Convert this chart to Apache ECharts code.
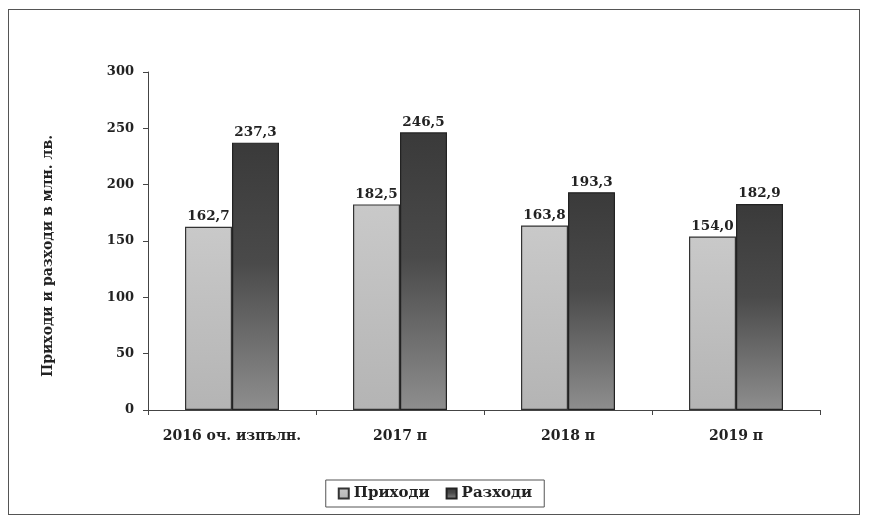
<!DOCTYPE html>
<html>
<head>
<meta charset="utf-8">
<script src="https://cdn.jsdelivr.net/npm/echarts@6/dist/echarts.min.js"></script>
<style>
  html, body { margin: 0; padding: 0; background: #fff; }
  #frame { position: absolute; left: 8px; top: 9px; width: 852px; height: 506px; border: 1px solid #555; box-sizing: border-box; }
  #chart { width: 870px; height: 518px; }
</style>
</head>
<body>
<div id="frame"></div>
<div id="chart"></div>
<script>
const categories = ['2016 оч. изпълн.', '2017 п', '2018 п', '2019 п']
const income = [162.7, 182.5, 163.8, 154.0]
const expenses = [237.3, 246.5, 193.3, 182.9]
const yTicks = [0, 50, 100, 150, 200, 250, 300]
const yTitle = 'Приходи и разходи в млн. лв.'

const font = '"DejaVu Serif", "Liberation Serif", serif'
const fmt = p => p.value.toFixed(1).replace('.', ',')

const chart = echarts.init(document.getElementById('chart'))
chart.setOption({
  animation: false,
  textStyle: { fontFamily: font },
  grid: { left: 148, right: 50, top: 72, bottom: 108 },
  graphic: [
    {
      type: 'text',
      x: 48,
      y: 256,
      rotation: Math.PI / 2,
      style: {
        text: yTitle,
        fontFamily: font,
        fontWeight: 'bold',
        fontSize: 14,
        fill: '#222',
        align: 'center',
        verticalAlign: 'middle'
      }
    }
  ],
  legend: {
    bottom: 11,
    left: 'center',
    itemWidth: 10,
    itemHeight: 10,
    itemGap: 16,
    padding: [6, 12],
    borderColor: '#555',
    borderWidth: 1,
    icon: 'rect',
    textStyle: { fontFamily: font, fontWeight: 'bold', fontSize: 15, color: '#222' },
    data: ['Приходи', 'Разходи']
  },
  xAxis: {
    type: 'category',
    data: categories,
    axisLine: { lineStyle: { color: '#444' } },
    axisTick: { show: true, length: 5, lineStyle: { color: '#444' } },
    axisLabel: { interval: 0, hideOverlap: false, fontFamily: font, fontWeight: 'bold', fontSize: 14, color: '#222', margin: 19 }
  },
  yAxis: {
    type: 'value',
    min: yTicks[0],
    max: yTicks[yTicks.length - 1],
    interval: 50,
    axisLine: { show: true, lineStyle: { color: '#444' } },
    axisTick: { show: true, length: 5, lineStyle: { color: '#444' } },
    splitLine: { show: false },
    axisLabel: { fontFamily: font, fontWeight: 'bold', fontSize: 13, color: '#222', margin: 14 }
  },
  series: [
    {
      name: 'Приходи',
      type: 'bar',
      data: income,
      barWidth: 47,
      barGap: '0%',
      itemStyle: {
        color: new echarts.graphic.LinearGradient(0, 0, 0, 1, [
          { offset: 0, color: '#c9c9c9' },
          { offset: 1, color: '#b4b4b4' }
        ]),
        borderColor: '#333',
        borderWidth: 1.2
      },
      label: { show: true, position: 'top', formatter: fmt, fontFamily: font, fontWeight: 'bold', fontSize: 13.5, color: '#222', distance: 3 }
    },
    {
      name: 'Разходи',
      type: 'bar',
      data: expenses,
      barWidth: 47,
      itemStyle: {
        color: new echarts.graphic.LinearGradient(0, 0, 0, 1, [
          { offset: 0, color: '#3a3a3a' },
          { offset: 0.45, color: '#4a4a4a' },
          { offset: 1, color: '#8e8e8e' }
        ]),
        borderColor: '#222',
        borderWidth: 1.2
      },
      label: { show: true, position: 'top', formatter: fmt, fontFamily: font, fontWeight: 'bold', fontSize: 13.5, color: '#222', distance: 3 }
    }
  ]
})
</script>
</body>
</html>
